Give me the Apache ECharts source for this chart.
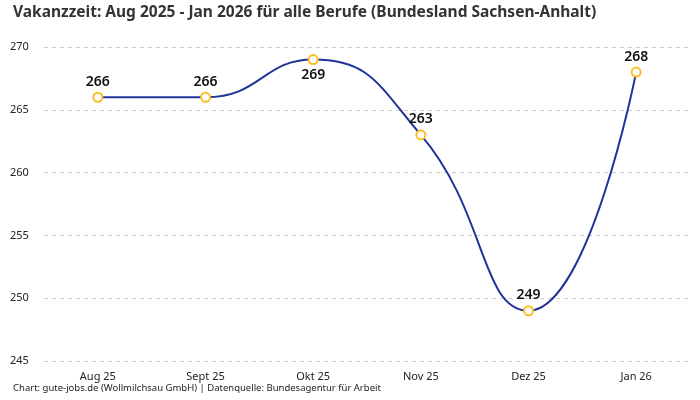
<!DOCTYPE html>
<html><head><meta charset="utf-8">
<script src="https://cdn.jsdelivr.net/npm/echarts@6/dist/echarts.min.js"></script>
<style>html,body{margin:0;padding:0;background:#fff}#c{width:700px;height:400px}</style>
</head><body><div id="c"></div>
<script>
const categories = ['Aug 25','Sept 25','Okt 25','Nov 25','Dez 25','Jan 26'];
const values = [266, 266, 269, 263, 249, 268];
const labelPositions = ['top','top','bottom','top','top','top'];
const titleText = 'Vakanzzeit: Aug 2025 - Jan 2026 für alle Berufe (Bundesland Sachsen-Anhalt)';
const footerText = 'Chart: gute-jobs.de (Wollmilchsau GmbH) | Datenquelle: Bundesagentur für Arbeit';

const font = '"Noto Sans", sans-serif';
const chart = echarts.init(document.getElementById('c'));
chart.setOption({
  animation: false,
  textStyle: { fontFamily: font },
  title: [
    { text: titleText, left: 8, top: 0, textStyle: { fontFamily: font, fontSize: 15.5, fontWeight: 'bold', color: '#333' } },
    { text: footerText, left: 8, bottom: 2, textStyle: { fontFamily: font, fontSize: 9.5, fontWeight: 'normal', color: '#222' } }
  ],
  grid: { left: 44, right: 10, top: 47, bottom: 39 },
  xAxis: {
    type: 'category', data: categories, boundaryGap: true,
    axisLine: { show: false }, axisTick: { show: false },
    axisLabel: { fontSize: 11, color: '#222', margin: 10 }
  },
  yAxis: {
    type: 'value', min: 245, max: 270, interval: 5,
    axisLine: { show: false }, axisTick: { show: false },
    axisLabel: { fontSize: 11, color: '#222', align: 'left', margin: 34 },
    splitLine: { lineStyle: { type: [4, 4], color: '#cccccc' } }
  },
  series: [{
    type: 'line', smooth: 0.5, data: values.map((v, i) => ({ value: v, label: { position: labelPositions[i] } })),
    lineStyle: { color: '#1f3399', width: 2 },
    symbol: 'circle', symbolSize: 9,
    itemStyle: { color: '#fff', borderColor: '#fbbf24', borderWidth: 2 },
    label: { show: true, fontSize: 14, color: '#111', distance: 3, fontWeight: 600 }
  }]
});
</script></body></html>
